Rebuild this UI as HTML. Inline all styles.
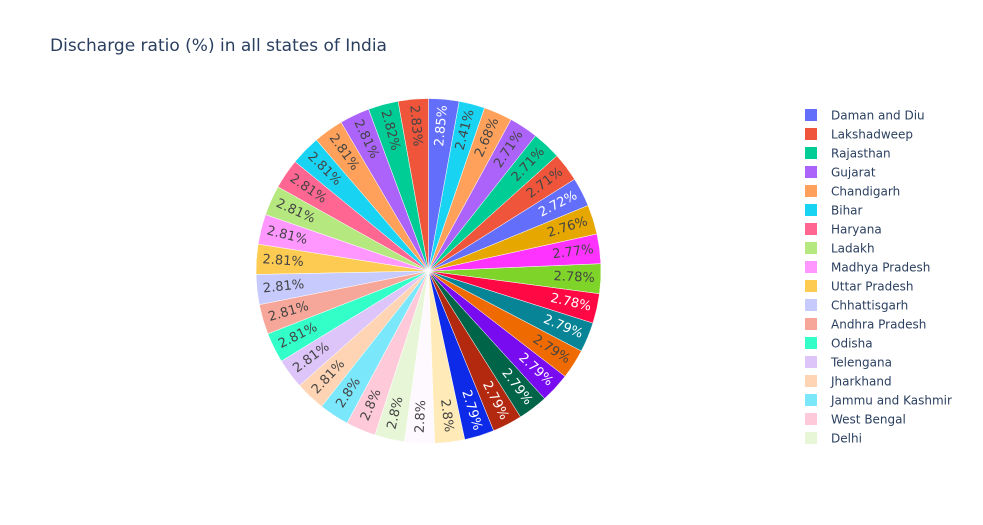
<!DOCTYPE html>
<html><head><meta charset="utf-8">
<style>
html,body{margin:0;padding:0;background:#fff;}
svg{display:block;font-family:"DejaVu Sans","Liberation Sans",sans-serif;}
</style></head>
<body>
<svg id="chart" width="983" height="525" viewBox="0 0 983 525">
<text x="50" y="51" font-size="17" fill="#2a3f5f">Discharge ratio (%) in all states of India</text>
<g id="slices"></g>
<g id="labels"></g>
<g id="legend"></g>
</svg>
<script>
const states = ["Daman and Diu","Lakshadweep","Rajasthan","Gujarat","Chandigarh","Bihar","Haryana","Ladakh","Madhya Pradesh","Uttar Pradesh","Chhattisgarh","Andhra Pradesh","Odisha","Telengana","Jharkhand","Jammu and Kashmir","West Bengal","Delhi","Karnataka","Kerala","Tamil Nadu","Maharashtra","Goa","Punjab","Himachal Pradesh","Uttarakhand","Assam","Manipur","Meghalaya","Mizoram","Nagaland","Tripura","Sikkim","Arunachal Pradesh","Puducherry","Andaman and Nicobar"];
const ratios = [2.85,2.83,2.82,2.81,2.81,2.81,2.81,2.81,2.81,2.81,2.81,2.81,2.81,2.81,2.81,2.8,2.8,2.8,2.8,2.8,2.79,2.79,2.79,2.79,2.79,2.79,2.78,2.78,2.77,2.76,2.72,2.71,2.71,2.71,2.68,2.41];
const colors = ["#636efa","#EF553B","#00cc96","#ab63fa","#FFA15A","#19d3f3","#FF6692","#B6E880","#FF97FF","#FECB52","#C6CAFD","#F7A799","#33FFC9","#DDC4F9","#FED4B4","#7BE7FA","#FECAD9","#E7F6D7","#FEF9FF","#FFEAB8","#0D2AE8","#B3290F","#006548","#790BF0","#EF6A00","#088497","#FF0844","#7FD42A","#FF33FF","#E6A700","#636efa","#EF553B","#00cc96","#ab63fa","#FFA15A","#19d3f3"];
const NS="http://www.w3.org/2000/svg";
const cx=428.5, cy=271, r=172.5, legendCount=18;
function lum(h){const n=parseInt(h.slice(1),16);const c=[(n>>16)&255,(n>>8)&255,n&255].map(v=>{v/=255;return v<=0.03928?v/12.92:Math.pow((v+0.055)/1.055,2.4);});return 0.2126*c[0]+0.7152*c[1]+0.0722*c[2];}
const total=ratios.reduce((a,b)=>a+b,0);
const sg=document.getElementById('slices'), lg=document.getElementById('labels'), leg=document.getElementById('legend');
let start=ratios[0]/total*360;
function pt(a,rr){const t=a*Math.PI/180;return [cx+rr*Math.sin(t), cy-rr*Math.cos(t)];}
ratios.forEach((v,i)=>{
  const span=v/total*360;
  const a1=start, a0=start-span;
  const p0=pt(a0,r), p1=pt(a1,r);
  const path=document.createElementNS(NS,'path');
  path.setAttribute('d',`M${cx},${cy}L${p0[0]},${p0[1]}A${r},${r} 0 0 1 ${p1[0]},${p1[1]}Z`);
  path.setAttribute('fill',colors[i]);
  path.setAttribute('stroke','#fff');
  path.setAttribute('stroke-width','0.5');
  
  
  sg.appendChild(path);
  let mid=(a0+a1)/2; mid=((mid%360)+360)%360;
  const tp=pt(mid,r*0.845);
  let rot = mid<=180 ? mid-90 : mid+90;
  const t=document.createElementNS(NS,'text');
  t.setAttribute('x',tp[0]);t.setAttribute('y',tp[1]);
  t.setAttribute('text-anchor','middle');t.setAttribute('dominant-baseline','central');
  t.setAttribute('font-size','13');
  t.setAttribute('fill',lum(colors[i])<0.23?'#fff':'#444');
  t.setAttribute('transform',`rotate(${rot} ${tp[0]} ${tp[1]})`);
  t.textContent=(Math.round(v*100)/100)+'%';
  
  
  lg.appendChild(t);
  start=a0;
});
for(let i=0;i<legendCount;i++){
  const y=115+i*19;
  const g=document.createElementNS(NS,'g');
  
  
  const rc=document.createElementNS(NS,'rect');
  rc.setAttribute('x',805);rc.setAttribute('y',y-6);rc.setAttribute('width',12);rc.setAttribute('height',12);
  rc.setAttribute('fill',colors[i]);
  
  
  const tx=document.createElementNS(NS,'text');
  tx.setAttribute('x',831);tx.setAttribute('y',y+4.5);tx.setAttribute('font-size','12');tx.setAttribute('fill','#2a3f5f');
  tx.textContent=states[i];
  
  
  g.appendChild(rc);g.appendChild(tx);leg.appendChild(g);
}
</script>
</body></html>
